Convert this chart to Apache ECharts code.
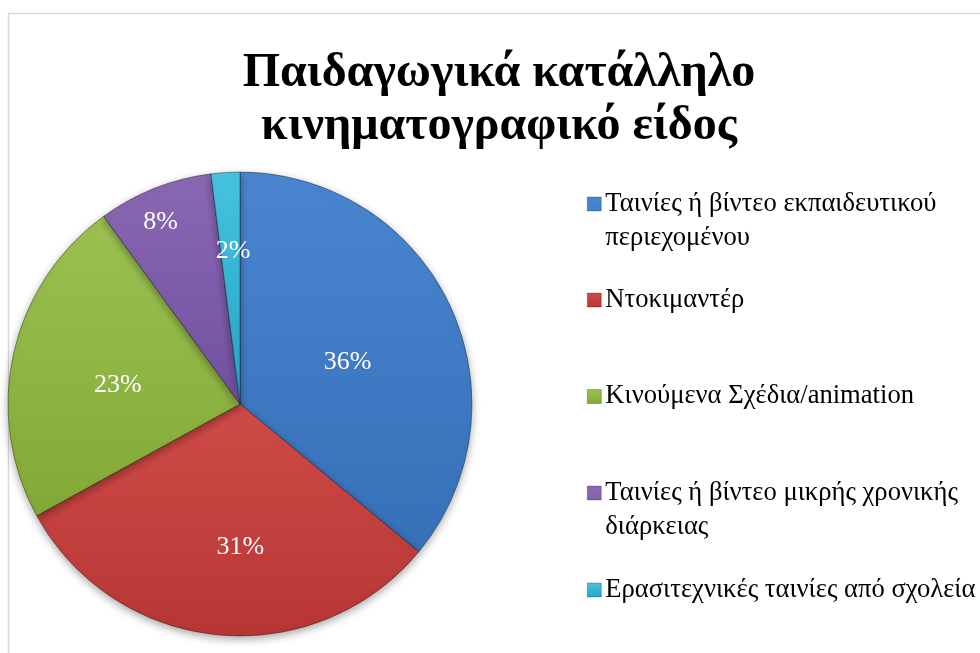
<!DOCTYPE html>
<html>
<head>
<meta charset="utf-8">
<script src="https://cdn.jsdelivr.net/npm/echarts@6/dist/echarts.min.js"></script>
<style>html,body{margin:0;padding:0;background:#fff}#c{width:980px;height:653px}</style>
</head>
<body>
<div id="c"></div>
<script>
const titleText = 'Παιδαγωγικά κατάλληλο\nκινηματογραφικό είδος';
const categories = [
  'Ταινίες ή βίντεο εκπαιδευτικού περιεχομένου',
  'Ντοκιμαντέρ',
  'Κινούμενα Σχέδια/animation',
  'Ταινίες ή βίντεο μικρής χρονικής διάρκειας',
  'Ερασιτεχνικές ταινίες από σχολεία'
];
const legendLabels = [
  'Ταινίες ή βίντεο εκπαιδευτικού\nπεριεχομένου',
  'Ντοκιμαντέρ',
  'Κινούμενα Σχέδια/animation',
  'Ταινίες ή βίντεο μικρής χρονικής\nδιάρκειας',
  'Ερασιτεχνικές ταινίες από σχολεία'
];
const values = [36, 31, 23, 8, 2];

// styling
const colorsTop = ['#4a86d0', '#cf4b48', '#9cc152', '#8a68b3', '#45c3e0'];
const colorsBottom = ['#3570b8', '#b73633', '#82a936', '#7150a0', '#27a6c6'];
const labelRadiusFactor = [0.50, 0.61, 0.53, 0.86, 0.66];
const labelShift = [[0, 9], [14, -1], [1, 9], [-4, 8], [3, 4]];
const legendCenters = [204, 300, 396.5, 493, 590];
const legendLineHeight = 34;

const cx = 240, cy = 404, R = 232;

function grad(i) {
  return new echarts.graphic.LinearGradient(0, 0, 0, 1, [
    { offset: 0, color: colorsTop[i] },
    { offset: 1, color: colorsBottom[i] }
  ]);
}

const pieData = categories.map((c, i) => ({
  name: c,
  value: values[i],
  itemStyle: { color: grad(i) }
}));

const iconBoxH = legendLineHeight + 14;
const twoLineIcon = 'path://M0,0h14v14h-14z M0,' + iconBoxH + 'h0.05v0.05h-0.05z';

const legends = categories.map((c, i) => {
  const twoLines = legendLabels[i].indexOf('\n') >= 0;
  return {
    data: [c],
    orient: 'vertical',
    left: 587,
    top: legendCenters[i] - legendLineHeight / 2,
    padding: 0,
    itemWidth: 14,
    itemHeight: twoLines ? iconBoxH : 14,
    itemGap: 0,
    icon: twoLines ? twoLineIcon : 'rect',
    selectedMode: false,
    itemStyle: { borderWidth: 0.6, borderColor: 'rgba(0,0,0,0.4)' },
    textStyle: {
      fontFamily: 'Liberation Serif',
      fontSize: 26.6,
      lineHeight: legendLineHeight,
      color: '#000',
      padding: [0, 0, 0, -1]
    },
    formatter: function (name) { return legendLabels[categories.indexOf(name)]; }
  };
});

const chart = echarts.init(document.getElementById('c'));
chart.setOption({
  animation: false,
  backgroundColor: '#ffffff',
  graphic: [{
    type: 'rect',
    z: -10,
    shape: { x: 8.5, y: 13.5, width: 1000, height: 700 },
    style: { fill: 'none', stroke: '#d9d9d9', lineWidth: 1.5 }
  }],
  title: {
    text: titleText,
    left: 499,
    top: 47,
    textAlign: 'center',
    padding: 0,
    textStyle: {
      fontFamily: 'Liberation Serif',
      fontSize: 48,
      fontWeight: 'bold',
      lineHeight: 53,
      color: '#000'
    }
  },
  legend: legends,
  series: [{
    type: 'pie',
    center: [cx, cy],
    radius: [0, R],
    startAngle: 90,
    clockwise: true,
    data: pieData,
    itemStyle: {
      borderColor: 'rgba(0,0,0,0.35)',
      borderWidth: 1,
      shadowBlur: 8,
      shadowOffsetY: 3,
      shadowColor: 'rgba(0,0,0,0.35)'
    },
    emphasis: { disabled: true },
    label: {
      show: true,
      position: 'inside',
      formatter: '{c}%',
      fontFamily: 'Liberation Serif',
      fontSize: 26,
      color: '#ffffff'
    },
    labelLine: { show: false },
    labelLayout: function (p) {
      const r = p.labelRect;
      const lx = r.x + r.width / 2, ly = r.y + r.height / 2;
      const k = labelRadiusFactor[p.dataIndex] / 0.5;
      const s = labelShift[p.dataIndex];
      return {
        x: cx + (lx - cx) * k + s[0],
        y: cy + (ly - cy) * k + s[1],
        align: 'center',
        verticalAlign: 'middle'
      };
    }
  }]
});
</script>
</body>
</html>
